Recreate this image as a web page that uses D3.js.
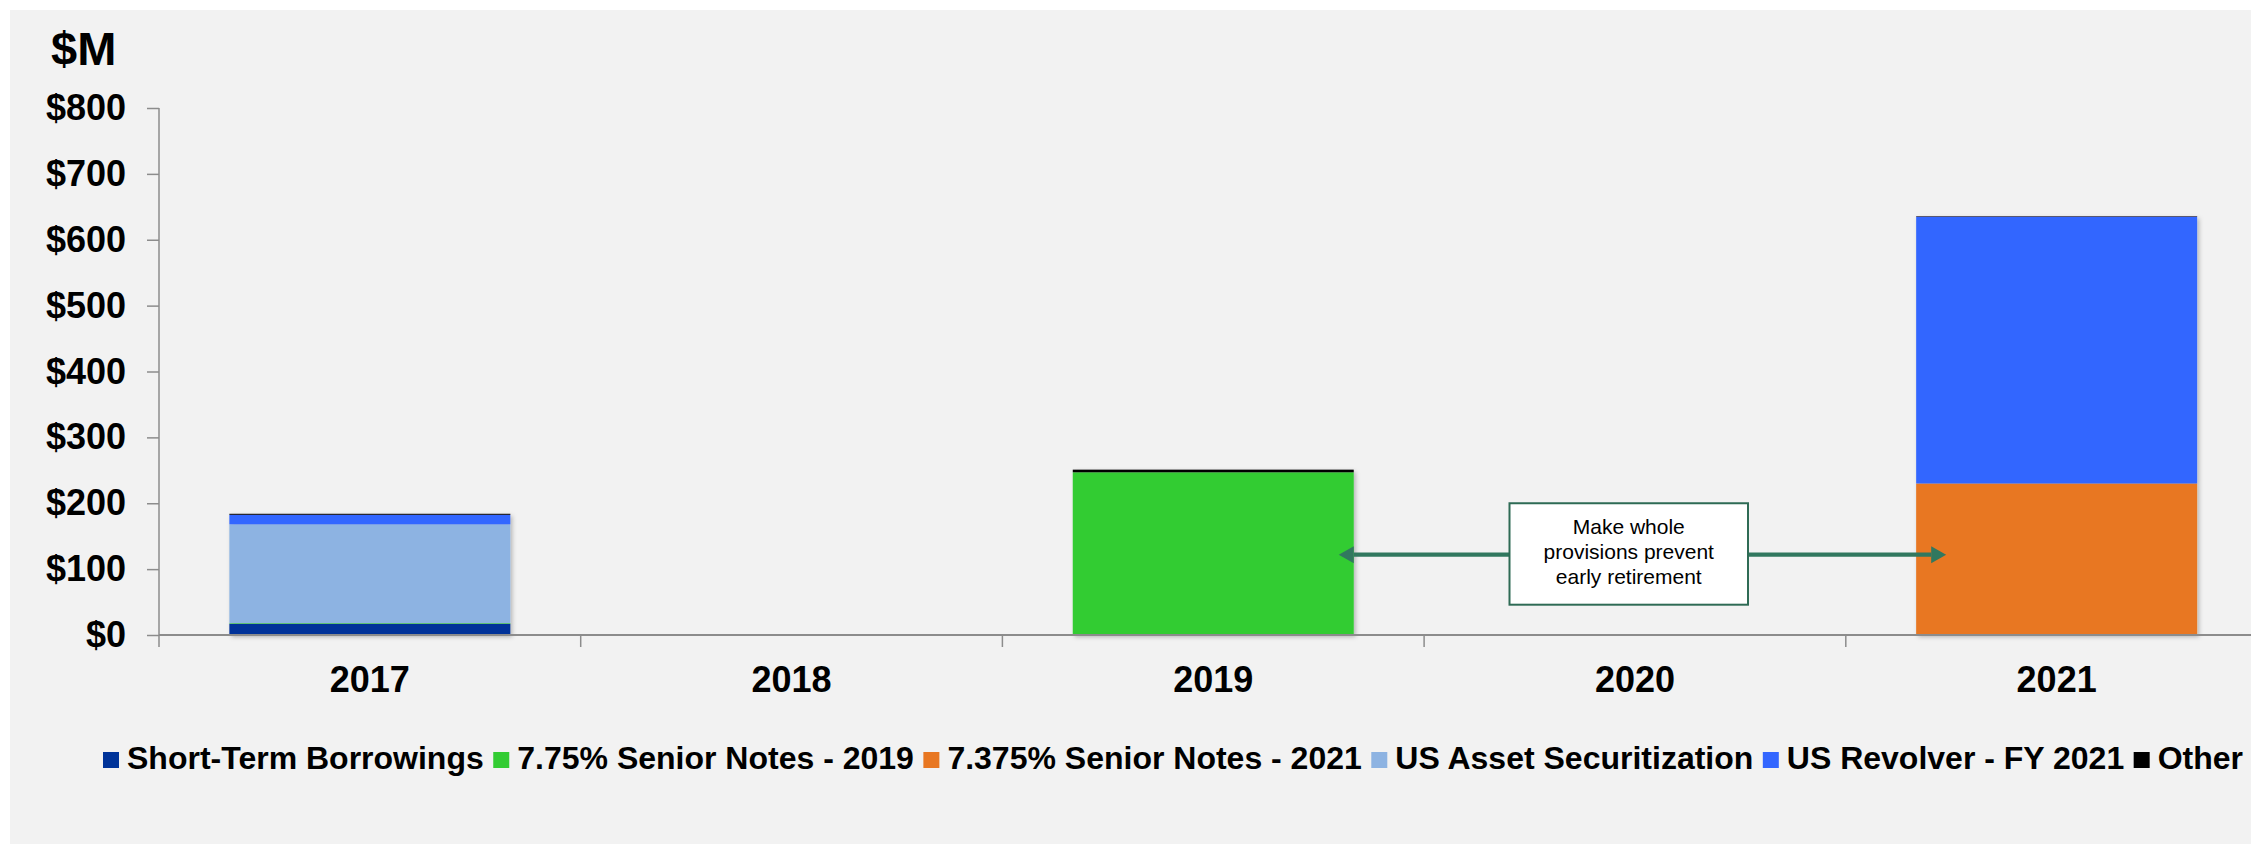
<!DOCTYPE html>
<html>
<head>
<meta charset="utf-8">
<script src="https://cdn.jsdelivr.net/npm/d3@7"></script>
<style>
  html, body { margin: 0; padding: 0; background: #ffffff; }
  svg { display: block; }
  text { font-family: "Liberation Sans", Arial, Helvetica, sans-serif; }
</style>
</head>
<body>
<svg id="chart" width="2251" height="844"></svg>
<script>
// ---- Data ----
const years = ["2017", "2018", "2019", "2020", "2021"];
const seriesNames = ["Short-Term Borrowings", "7.75% Senior Notes - 2019", "7.375% Senior Notes - 2021", "US Asset Securitization", "US Revolver - FY 2021", "Other"];
const seriesColors = ["#003399", "#33cc33", "#e87722", "#8db3e2", "#3366ff", "#000000"];
const shortTerm   = [17, 0, 0, 0, 0];
const notes2019   = [1, 0, 247, 0, 0];
const notes2021   = [0, 0, 0, 0, 230];
const assetSec    = [150, 0, 0, 0, 0];
const revolver    = [14.5, 0, 0, 0, 405];
const other       = [1.5, 0, 4, 0, 0.8];
const yTicks = [0, 100, 200, 300, 400, 500, 600, 700, 800];
const yTickLabels = ["$0", "$100", "$200", "$300", "$400", "$500", "$600", "$700", "$800"];
const unitLabel = "$M";
const annotationLines = ["Make whole", "provisions prevent", "early retirement"];

const seriesValues = [shortTerm, notes2019, notes2021, assetSec, revolver, other];
const table = years.map((y, i) => {
  const row = { year: y };
  seriesNames.forEach((s, k) => row[s] = seriesValues[k][i]);
  return row;
});

// ---- Layout ----
const svg = d3.select("#chart");
const W = 2251, H = 844;
const plotLeft = 159, plotRight = 2267.5, plotTop = 108, plotBottom = 635;

svg.append("rect").attr("x", 10).attr("y", 10).attr("width", W - 10).attr("height", H - 10).attr("fill", "#f2f2f2");

const defs = svg.append("defs");
const f = defs.append("filter").attr("id", "shadow").attr("x", "-5%").attr("y", "-5%").attr("width", "115%").attr("height", "115%");
f.append("feDropShadow").attr("dx", 2).attr("dy", 2).attr("stdDeviation", 2).attr("flood-color", "#000").attr("flood-opacity", 0.25);

const p = 0.3337;
const x = d3.scaleBand().domain(years).range([plotLeft, plotRight]).paddingInner(p).paddingOuter(p / 2);
const y = d3.scaleLinear().domain([0, 800]).range([plotBottom, plotTop]);
const step = x.step();

// Stacked bars
const stack = d3.stack().keys(seriesNames);
const stacked = stack(table);

const barsG = svg.append("g");
years.forEach((yr, i) => {
  const g = barsG.append("g").attr("filter", "url(#shadow)");
  stacked.forEach((layer, k) => {
    const d = layer[i];
    if (d[1] - d[0] <= 0) return;
    g.append("rect")
      .attr("x", x(yr))
      .attr("width", x.bandwidth())
      .attr("y", y(d[1]))
      .attr("height", y(d[0]) - y(d[1]))
      .attr("fill", seriesColors[k]);
  });
});

// Y axis
const axisColor = "#8c8c8c";
const yAxis = d3.axisLeft(y).tickValues(yTicks).tickFormat((d, i) => yTickLabels[i]).tickSize(12).tickPadding(21);
const yg = svg.append("g").attr("transform", `translate(${plotLeft},0)`).call(yAxis);
yg.select(".domain").remove();
yg.selectAll(".tick line").attr("stroke", axisColor).attr("stroke-width", 1.5);
yg.selectAll(".tick text")
  .attr("font-size", 36).attr("font-weight", "bold").attr("fill", "#000")
  .style("font-family", '"Liberation Sans", Arial, sans-serif');
svg.append("line").attr("x1", plotLeft).attr("x2", plotLeft).attr("y1", plotTop).attr("y2", plotBottom + 12)
  .attr("stroke", axisColor).attr("stroke-width", 1.5);

// X axis
svg.append("line").attr("x1", plotLeft).attr("x2", plotRight).attr("y1", plotBottom).attr("y2", plotBottom)
  .attr("stroke", axisColor).attr("stroke-width", 2);
const boundaries = years.map(yr => x(yr) - step * p / 2).concat([x(years[years.length - 1]) - step * p / 2 + step]);
svg.append("g").selectAll("line").data(boundaries.slice(1)).join("line")
  .attr("x1", d => d).attr("x2", d => d).attr("y1", plotBottom).attr("y2", plotBottom + 12)
  .attr("stroke", axisColor).attr("stroke-width", 1.5);
svg.append("g").selectAll("text").data(years).join("text")
  .attr("x", d => x(d) + x.bandwidth() / 2).attr("y", 692)
  .attr("text-anchor", "middle").attr("font-size", 36).attr("font-weight", "bold").attr("fill", "#000")
  .text(d => d);

// Unit label
svg.append("text").attr("x", 51).attr("y", 65).attr("font-size", 47).attr("font-weight", "bold").attr("fill", "#000").text(unitLabel);

// Annotation
const arrowColor = "#31785f";
const arrowY = y(122);
const leftTip = x("2019") + x.bandwidth() - 15;
const rightTip = x("2021") + 30;
const boxX = 1509.5, boxW = 238.5;
const boxTop = y(200), boxBottom = y(46);
function arrow(fromX, tipX) {
  const dir = tipX > fromX ? 1 : -1;
  const baseX = tipX - dir * 15;
  svg.append("line").attr("x1", fromX).attr("x2", baseX).attr("y1", arrowY).attr("y2", arrowY)
    .attr("stroke", arrowColor).attr("stroke-width", 4.3);
  svg.append("path")
    .attr("d", `M${tipX},${arrowY} L${baseX},${arrowY - 8.5} L${baseX},${arrowY + 8.5} Z`)
    .attr("fill", arrowColor);
}
arrow(boxX, leftTip);
arrow(boxX + boxW, rightTip);
svg.append("rect").attr("x", boxX).attr("y", boxTop).attr("width", boxW).attr("height", boxBottom - boxTop)
  .attr("fill", "#ffffff").attr("stroke", "#2e6b55").attr("stroke-width", 2);
svg.append("g").selectAll("text").data(annotationLines).join("text")
  .attr("x", boxX + boxW / 2).attr("y", (d, i) => 534 + i * 25)
  .attr("text-anchor", "middle").attr("font-size", 21).attr("fill", "#000")
  .text(d => d);

// Legend
const legend = svg.append("g");
let lx = 103;
seriesNames.forEach((s, k) => {
  legend.append("rect").attr("x", lx).attr("y", 752).attr("width", 16).attr("height", 16).attr("fill", seriesColors[k]);
  const t = legend.append("text").attr("x", lx + 24).attr("y", 769)
    .attr("font-size", 32).attr("font-weight", "bold").attr("fill", "#000").text(s);
  lx = lx + 24 + t.node().getComputedTextLength() + 9.5;
});
</script>
</body>
</html>
